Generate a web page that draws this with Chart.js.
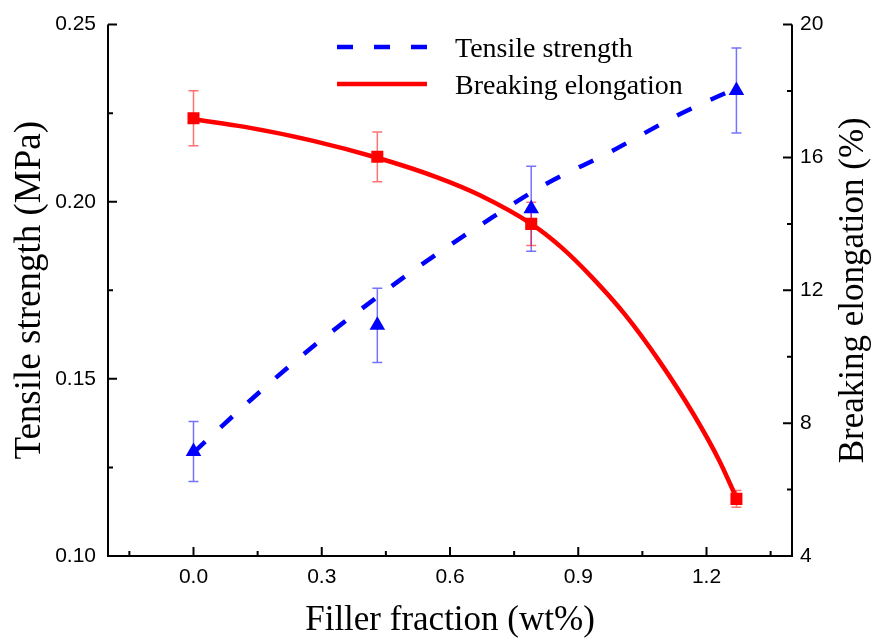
<!DOCTYPE html>
<html>
<head>
<meta charset="utf-8">
<script src="https://cdn.jsdelivr.net/npm/chart.js@4.4.1/dist/chart.umd.min.js"></script>
<style>
html, body { margin: 0; padding: 0; background: #fff; }
</style>
</head>
<body>
<canvas id="chart" width="873" height="642"></canvas>
<script>
// measured points (x in wt%)
var fillerFraction = [0, 0.43, 0.79, 1.27];
var tensileStrength = [0.1295, 0.1651, 0.1980, 0.2314];
var tensileError = [0.0085, 0.0105, 0.012, 0.012];
var elongation = [17.18, 16.02, 14.0, 5.72];
var elongationError = [0.83, 0.75, 0.65, 0.25];

// fitted curves
var tensileFitX = [0, 0.137, 0.266, 0.40, 0.535, 0.676, 0.82, 0.974, 1.131, 1.27];
var tensileFitY = [0.1292, 0.1444, 0.1578, 0.1704, 0.1824, 0.1938, 0.2047, 0.2140, 0.2243, 0.2321];
var elongFitX = [0, 0.12, 0.28, 0.43, 0.57, 0.67, 0.79, 0.86, 0.93, 1.01, 1.09, 1.17, 1.23, 1.27];
var elongFitY = [17.15, 16.92, 16.50, 15.99, 15.40, 14.86, 14.00, 13.30, 12.42, 11.26, 9.86, 8.26, 6.87, 5.75];

// tick labels
var xTicks = [0, 0.3, 0.6, 0.9, 1.2];
var leftTicks = [0.10, 0.15, 0.20, 0.25];
var rightTicks = [4, 8, 12, 16, 20];
var rightTitle = 'Breaking elongation (%)';

var serif = '"Liberation Serif", "Times New Roman", serif';
var sans = '"Liberation Sans", Arial, sans-serif';

function pts(xs, ys) {
    return xs.map(function (x, i) { return { x: x, y: ys[i] }; });
}

// error bars drawn behind the markers
var errorBars = {
    id: 'errorBars',
    beforeDatasetsDraw: function (chart) {
        var ctx = chart.ctx;
        var sx = chart.scales.x;
        var sets = [
            { ys: tensileStrength, err: tensileError, scale: chart.scales.y, color: 'rgba(0, 0, 255, 0.55)' },
            { ys: elongation, err: elongationError, scale: chart.scales.y2, color: 'rgba(255, 0, 0, 0.55)' }
        ];
        ctx.save();
        ctx.lineWidth = 1.5;
        sets.forEach(function (s) {
            ctx.strokeStyle = s.color;
            fillerFraction.forEach(function (x, i) {
                var px = sx.getPixelForValue(x);
                var top = s.scale.getPixelForValue(s.ys[i] + s.err[i]);
                var bot = s.scale.getPixelForValue(s.ys[i] - s.err[i]);
                ctx.beginPath();
                ctx.moveTo(px, top); ctx.lineTo(px, bot);
                ctx.moveTo(px - 5, top); ctx.lineTo(px + 5, top);
                ctx.moveTo(px - 5, bot); ctx.lineTo(px + 5, bot);
                ctx.stroke();
            });
        });
        ctx.restore();
    }
};

// axis lines with inward ticks (major + minor), right title read bottom-to-top
var axisFrame = {
    id: 'axisFrame',
    afterDraw: function (chart) {
        var ctx = chart.ctx, a = chart.chartArea;
        var sx = chart.scales.x, sy = chart.scales.y, sy2 = chart.scales.y2;
        function withMinor(major, lo, hi) {
            var step = major[1] - major[0], out = [];
            for (var v = major[0] - step / 2; v <= major[major.length - 1] + step / 2 + 1e-9; v += step) {
                if (v >= lo - 1e-9 && v <= hi + 1e-9) out.push(v);
            }
            return out;
        }
        ctx.save();
        ctx.strokeStyle = '#000';
        ctx.lineWidth = 2;
        ctx.beginPath();
        ctx.moveTo(a.left, a.top); ctx.lineTo(a.left, a.bottom);
        ctx.lineTo(a.right, a.bottom); ctx.lineTo(a.right, a.top);
        xTicks.forEach(function (v) { var p = sx.getPixelForValue(v); ctx.moveTo(p, a.bottom); ctx.lineTo(p, a.bottom - 9); });
        withMinor(xTicks, sx.min, sx.max).forEach(function (v) { var p = sx.getPixelForValue(v); ctx.moveTo(p, a.bottom); ctx.lineTo(p, a.bottom - 5); });
        leftTicks.forEach(function (v) { var p = sy.getPixelForValue(v); ctx.moveTo(a.left, p); ctx.lineTo(a.left + 9, p); });
        withMinor(leftTicks, sy.min, sy.max).forEach(function (v) { var p = sy.getPixelForValue(v); ctx.moveTo(a.left, p); ctx.lineTo(a.left + 5, p); });
        rightTicks.forEach(function (v) { var p = sy2.getPixelForValue(v); ctx.moveTo(a.right, p); ctx.lineTo(a.right - 9, p); });
        withMinor(rightTicks, sy2.min, sy2.max).forEach(function (v) { var p = sy2.getPixelForValue(v); ctx.moveTo(a.right, p); ctx.lineTo(a.right - 5, p); });
        ctx.stroke();

        ctx.translate(sy2.right - 19, (a.top + a.bottom) / 2);
        ctx.rotate(-Math.PI / 2);
        ctx.font = '35px ' + serif;
        ctx.fillStyle = '#000';
        ctx.textAlign = 'center';
        ctx.textBaseline = 'middle';
        ctx.fillText(rightTitle, 0, 0);
        ctx.restore();
    }
};

// legend inside the plot, top middle
var innerLegend = {
    id: 'innerLegend',
    afterDraw: function (chart) {
        var ctx = chart.ctx;
        var rows = [chart.data.datasets[0], chart.data.datasets[1]];
        var ys = [47, 84];
        ctx.save();
        ctx.font = '28px ' + serif;
        ctx.fillStyle = '#000';
        ctx.textBaseline = 'middle';
        rows.forEach(function (ds, i) {
            ctx.strokeStyle = ds.borderColor;
            ctx.lineWidth = ds.borderWidth;
            ctx.setLineDash(ds.borderDash || []);
            ctx.beginPath();
            ctx.moveTo(337, ys[i]); ctx.lineTo(427, ys[i]);
            ctx.stroke();
            ctx.setLineDash([]);
            ctx.fillText(ds.label, 455, ys[i] + 3);
        });
        ctx.restore();
    }
};

var ctx = document.getElementById('chart').getContext('2d');
var chart = new Chart(ctx, {
    type: 'line',
    data: {
        datasets: [{
            label: 'Tensile strength',
            data: pts(tensileFitX, tensileFitY),
            yAxisID: 'y',
            borderColor: 'rgb(0, 0, 255)',
            borderWidth: 4.5,
            borderDash: [16, 21],
            pointRadius: 0,
            cubicInterpolationMode: 'monotone',
            order: 3
        }, {
            label: 'Breaking elongation',
            data: pts(elongFitX, elongFitY),
            yAxisID: 'y2',
            borderColor: 'rgb(255, 0, 0)',
            borderWidth: 4.5,
            pointRadius: 0,
            cubicInterpolationMode: 'monotone',
            order: 4
        }, {
            label: 'Tensile strength data',
            data: pts(fillerFraction, tensileStrength),
            yAxisID: 'y',
            showLine: false,
            pointStyle: 'triangle',
            pointRadius: 9,
            backgroundColor: 'rgb(0, 0, 255)',
            borderColor: 'rgb(0, 0, 255)',
            borderWidth: 0,
            order: 1
        }, {
            label: 'Breaking elongation data',
            data: pts(fillerFraction, elongation),
            yAxisID: 'y2',
            showLine: false,
            pointStyle: 'rect',
            pointRadius: 8.5,
            backgroundColor: 'rgb(255, 0, 0)',
            borderColor: 'rgb(255, 0, 0)',
            borderWidth: 0,
            order: 2
        }]
    },
    options: {
        responsive: false,
        animation: false,
        layout: { padding: { top: 17, left: 0, right: 0, bottom: 0 } },
        scales: {
            x: {
                type: 'linear',
                min: -0.2,
                max: 1.4,
                grid: { display: false, drawTicks: false },
                border: { display: false },
                afterBuildTicks: function (s) { s.ticks = xTicks.map(function (v) { return { value: v }; }); },
                afterFit: function (s) { s.height = 86; },
                ticks: {
                    color: '#000',
                    padding: 9,
                    font: { family: sans, size: 21 },
                    callback: function (v) { return v.toFixed(1); }
                },
                title: {
                    display: true,
                    text: 'Filler fraction (wt%)',
                    color: '#000',
                    font: { family: serif, size: 35 },
                    padding: { top: 0, bottom: 0 }
                }
            },
            y: {
                position: 'left',
                min: 0.10,
                max: 0.25,
                grid: { display: false, drawTicks: false },
                border: { display: false },
                afterBuildTicks: function (s) { s.ticks = leftTicks.map(function (v) { return { value: v }; }); },
                afterFit: function (s) { s.width = 108; },
                ticks: {
                    color: '#000',
                    padding: 12,
                    font: { family: sans, size: 21 },
                    callback: function (v) { return v.toFixed(2); }
                },
                title: {
                    display: true,
                    text: 'Tensile strength (MPa)',
                    color: '#000',
                    font: { family: serif, size: 37 },
                    padding: { top: 8, bottom: 0 }
                }
            },
            y2: {
                position: 'right',
                min: 4,
                max: 20,
                grid: { display: false, drawTicks: false },
                border: { display: false },
                afterBuildTicks: function (s) { s.ticks = rightTicks.map(function (v) { return { value: v }; }); },
                afterFit: function (s) { s.width = 81; },
                ticks: {
                    color: '#000',
                    padding: 8,
                    font: { family: sans, size: 21 }
                },
                title: { display: false }
            }
        },
        plugins: {
            legend: { display: false },
            tooltip: { enabled: false }
        }
    },
    plugins: [errorBars, axisFrame, innerLegend]
});
</script>
</body>
</html>
